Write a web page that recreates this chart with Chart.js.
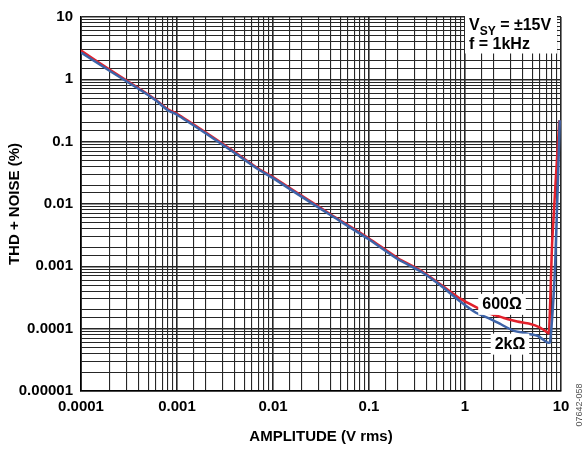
<!DOCTYPE html>
<html>
<head>
<meta charset="utf-8">
<script src="https://cdn.jsdelivr.net/npm/chart.js@4"></script>
<style>
  html, body { margin: 0; padding: 0; background: #fff; }
  #wrap { width: 588px; height: 450px; position: relative; }
</style>
</head>
<body>
<div id="wrap"><canvas id="chart"></canvas></div>
<script>
// amplitude (V rms) and THD + N (%)
var ampRed = [0.0001, 0.0002, 0.0004, 0.0006, 0.0008, 0.001, 0.002, 0.004, 0.007, 0.01, 0.02, 0.04, 0.1, 0.2, 0.35, 0.55, 0.9, 1.4, 1.8, 2.5, 3.5, 4.7, 6, 7.2, 7.5, 8.1, 9.6];
var thdRed = [2.9, 1.42, 0.72, 0.47, 0.33, 0.28, 0.14, 0.068, 0.037, 0.027, 0.0135, 0.0068, 0.0028, 0.00135, 0.00085, 0.00052, 0.0003, 0.00021, 0.000175, 0.00015, 0.00013, 0.00012, 0.000105, 0.000087, 0.000084, 0.0025, 0.22];

var ampBlue = [0.0001, 0.0002, 0.0004, 0.0006, 0.0008, 0.001, 0.002, 0.004, 0.007, 0.01, 0.02, 0.04, 0.1, 0.2, 0.35, 0.55, 0.9, 1.3, 1.8, 2.3, 3.2, 4.5, 5.7, 7.2, 7.7, 8.7, 9.7];
var thdBlue = [2.7, 1.36, 0.7, 0.46, 0.32, 0.27, 0.135, 0.066, 0.036, 0.026, 0.013, 0.0066, 0.0027, 0.0013, 0.00082, 0.0005, 0.00027, 0.00018, 0.000145, 0.00012, 0.000093, 0.000083, 0.000077, 0.00006, 0.00006, 0.0011, 0.22];

var xTickLabels = ['0.0001', '0.001', '0.01', '0.1', '1', '10'];
var yTickLabels = ['0.00001', '0.0001', '0.001', '0.01', '0.1', '1', '10'];

var toPoints = function (xs, ys) {
  return xs.map(function (x, i) { return { x: x, y: ys[i] }; });
};

var decadeLabel = function (labels) {
  return function (value) {
    for (var i = 0; i < labels.length; i++) {
      if (Math.abs(Number(labels[i]) - value) < value * 1e-6) return labels[i];
    }
    return '';
  };
};

var isDecade = function (v) {
  var l = Math.log10(v);
  return Math.abs(l - Math.round(l)) < 1e-6;
};

var gridOpts = {
  color: '#262626',
  lineWidth: function (ctx) { return ctx.tick && isDecade(ctx.tick.value) ? 1.6 : 1.1; },
  drawTicks: false
};

var font = { family: 'Liberation Sans, Arial, sans-serif', size: 15, weight: 'bold' };

var notes = {
  id: 'notes',
  afterDraw: function (chart) {
    var c = chart.ctx;
    var xs = chart.scales.x, ys = chart.scales.y;
    c.save();
    c.fillStyle = '#fff';
    c.fillRect(465, 14.5, 92, 39);
    c.fillStyle = '#000';
    c.textBaseline = 'alphabetic';
    c.textAlign = 'left';
    c.font = 'bold 16px Liberation Sans, Arial, sans-serif';
    c.fillText('V', 469, 30);
    var w = c.measureText('V').width;
    c.font = 'bold 12px Liberation Sans, Arial, sans-serif';
    c.fillText('SY', 469 + w, 35);
    var w2 = c.measureText('SY').width;
    c.font = 'bold 16px Liberation Sans, Arial, sans-serif';
    c.fillText(' = \u00b115V', 469 + w + w2, 30);
    c.fillText('f = 1kHz', 469, 49);

    var labels = [
      { t: '600\u03a9', x: 2.43, y: 0.00025 },
      { t: '2k\u03a9', x: 2.94, y: 0.0000575 }
    ];
    c.textAlign = 'center';
    c.textBaseline = 'middle';
    labels.forEach(function (l) {
      var px = xs.getPixelForValue(l.x), py = ys.getPixelForValue(l.y);
      var tw = c.measureText(l.t).width;
      c.fillStyle = '#fff';
      c.fillRect(px - tw / 2 - 4, py - 10, tw + 8, 21);
      c.fillStyle = '#000';
      c.fillText(l.t, px, py + 1);
    });

    c.translate(580, 405);
    c.rotate(-Math.PI / 2);
    c.font = '9px Liberation Sans, Arial, sans-serif';
    c.fillStyle = '#555';
    c.fillText('07642-058', 0, 0);
    c.restore();
  }
};

var chart = new Chart(document.getElementById('chart'), {
  type: 'line',
  data: {
    datasets: [{
      label: '2k\u03a9',
      data: toPoints(ampBlue, thdBlue),
      borderColor: '#3d63a8',
      borderWidth: 2.5,
      pointRadius: 0,
      tension: 0.2
    }, {
      label: '600\u03a9',
      data: toPoints(ampRed, thdRed),
      borderColor: '#e3202b',
      borderWidth: 2.5,
      pointRadius: 0,
      tension: 0.2
    }]
  },
  options: {
    responsive: true,
    maintainAspectRatio: false,
    animation: false,
    layout: { padding: { top: 13, right: 27, bottom: 0, left: 0 } },
    plugins: { legend: { display: false }, tooltip: { enabled: false } },
    scales: {
      x: {
        type: 'logarithmic',
        min: 0.0001,
        max: 10,
        grid: gridOpts,
        border: { color: '#000', width: 1.6 },
        ticks: {
          autoSkip: false,
          maxRotation: 0,
          padding: 7,
          color: '#000',
          font: font,
          callback: decadeLabel(xTickLabels)
        },
        title: {
          display: true,
          text: 'AMPLITUDE (V rms)',
          color: '#000',
          font: font,
          padding: { top: 10, bottom: 4 }
        },
        afterFit: function (scale) { scale.height = 59; }
      },
      y: {
        type: 'logarithmic',
        min: 0.00001,
        max: 10,
        grid: gridOpts,
        border: { color: '#000', width: 1.6 },
        ticks: {
          autoSkip: false,
          padding: 8,
          color: '#000',
          font: font,
          callback: decadeLabel(yTickLabels)
        },
        title: {
          display: true,
          text: 'THD + NOISE (%)',
          color: '#000',
          font: font,
          padding: { top: 6, bottom: 0 }
        },
        afterFit: function (scale) { scale.width = 81; }
      }
    }
  },
  plugins: [notes]
});
</script>
</body>
</html>
